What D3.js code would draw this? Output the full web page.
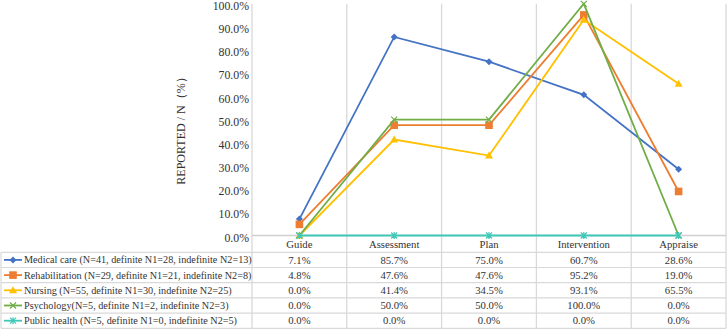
<!DOCTYPE html>
<html>
<head>
<meta charset="utf-8">
<script src="https://cdn.jsdelivr.net/npm/d3@7"></script>
<style>
  body { margin: 0; background: #fff; }
</style>
</head>
<body>
<div id="chart"></div>
<script>
const categories = ["Guide", "Assessment", "Plan", "Intervention", "Appraise"];
const seriesNames = [
  "Medical care (N=41, definite N1=28, indefinite N2=13)",
  "Rehabilitation (N=29, definite N1=21, indefinite N2=8)",
  "Nursing (N=55, definite N1=30, indefinite N2=25)",
  "Psychology(N=5, definite N1=2, indefinite N2=3)",
  "Public health (N=5, definite N1=0, indefinite N2=5)"
];
const medical = [7.1, 85.7, 75.0, 60.7, 28.6];
const rehab = [4.8, 47.6, 47.6, 95.2, 19.0];
const nursing = [0.0, 41.4, 34.5, 93.1, 65.5];
const psychology = [0.0, 50.0, 50.0, 100.0, 0.0];
const publicHealth = [0.0, 0.0, 0.0, 0.0, 0.0];
const yTicks = [0, 10, 20, 30, 40, 50, 60, 70, 80, 90, 100];

const seriesValues = [medical, rehab, nursing, psychology, publicHealth];
const colors = ["#4472C4", "#ED7D31", "#FFC000", "#70AD47", "#40C8B8"];
const markers = ["diamond", "square", "triangle", "x", "star"];

const width = 728, height = 329;
const plot = { left: 252, right: 726, top: 3.8, bottom: 235.5 };
const tableTop = 252.3, rowH = 15.2;
const tableFont = 10.7, legendFont = 10.2;
const serif = "'Liberation Serif', 'Times New Roman', Times, 'DejaVu Serif', serif";

const svg = d3.select("#chart").append("svg")
  .attr("width", width).attr("height", height)
  .style("display", "block")
  .attr("font-family", serif);

const x = d3.scaleBand().domain(categories).range([plot.left, plot.right]);
const y = d3.scaleLinear().domain([0, 100]).range([plot.bottom, plot.top]);

// vertical gridlines (category boundaries), run down through the table
const bounds = categories.map(c => x(c)).concat([plot.right]);
svg.selectAll(".vgrid").data(bounds).enter().append("line")
  .attr("x1", d => d).attr("x2", d => d)
  .attr("y1", plot.top).attr("y2", tableTop + rowH * 5)
  .attr("stroke", "#d9d9d9").attr("stroke-width", 1.3);

// y tick labels
svg.selectAll(".ytick").data(yTicks).enter().append("text")
  .attr("x", 249).attr("y", d => y(d) + 2).attr("dy", "0.35em")
  .attr("text-anchor", "end").attr("font-size", 11.8).attr("fill", "#333")
  .text(d => d.toFixed(1) + "%");

// y axis title
svg.append("text")
  .attr("transform", "translate(185,128) rotate(-90)")
  .attr("text-anchor", "middle").attr("font-size", 12).attr("fill", "#333")
  .text("REPORTED / N（%）");

// table horizontal lines
const rowLines = d3.range(6).map(i => tableTop + i * rowH);
svg.selectAll(".hrow").data(rowLines).enter().append("line")
  .attr("x1", 1).attr("x2", plot.right)
  .attr("y1", d => d).attr("y2", d => d)
  .attr("stroke", "#d9d9d9").attr("stroke-width", 1.2);
svg.append("line")
  .attr("x1", 1).attr("x2", 1).attr("y1", tableTop).attr("y2", tableTop + rowH * 5)
  .attr("stroke", "#d9d9d9").attr("stroke-width", 1.2);

// x axis line
svg.append("line")
  .attr("x1", plot.left).attr("x2", plot.right)
  .attr("y1", plot.bottom).attr("y2", plot.bottom)
  .attr("stroke", "#d0d0d0").attr("stroke-width", 1.5);

// category header
svg.selectAll(".cat").data(categories).enter().append("text")
  .attr("x", d => x(d) + x.bandwidth() / 2).attr("y", 244.5).attr("dy", "0.35em")
  .attr("text-anchor", "middle").attr("font-size", tableFont).attr("fill", "#333")
  .text(d => d);

function drawMarker(g, type, color) {
  if (type === "diamond") {
    g.append("path").attr("d", "M0,-3.5L3.5,0L0,3.5L-3.5,0Z").attr("fill", color);
  } else if (type === "square") {
    g.append("rect").attr("x", -3.8).attr("y", -3.8).attr("width", 7.6).attr("height", 7.6).attr("fill", color);
  } else if (type === "triangle") {
    g.append("path").attr("d", "M0,-4L4,3L-4,3Z").attr("fill", color);
  } else if (type === "x") {
    g.append("path").attr("d", "M-3,-3L3,3M-3,3L3,-3").attr("stroke", color).attr("stroke-width", 1.2).attr("fill", "none");
  } else {
    g.append("path").attr("d", "M-3,-3L3,3M-3,3L3,-3M0,-3.5L0,3.5").attr("stroke", color).attr("stroke-width", 1.2).attr("fill", "none");
  }
}

const line = d3.line()
  .x((d, i) => x(categories[i]) + x.bandwidth() / 2)
  .y(d => y(d));

seriesValues.forEach((vals, s) => {
  svg.append("path").datum(vals)
    .attr("d", line).attr("fill", "none")
    .attr("stroke", colors[s]).attr("stroke-width", 1.8);
  vals.forEach((v, i) => {
    const g = svg.append("g")
      .attr("transform", `translate(${x(categories[i]) + x.bandwidth() / 2},${y(v)})`);
    drawMarker(g, markers[s], colors[s]);
  });
});

// table rows
seriesNames.forEach((name, s) => {
  const cy = tableTop + rowH * s + rowH / 2;
  svg.append("line").attr("x1", 4).attr("x2", 22).attr("y1", cy).attr("y2", cy)
    .attr("stroke", colors[s]).attr("stroke-width", 1.8);
  drawMarker(svg.append("g").attr("transform", `translate(13,${cy})`), markers[s], colors[s]);
  svg.append("text").attr("x", 24).attr("y", cy).attr("dy", "0.35em")
    .attr("font-size", legendFont).attr("fill", "#333").text(name);
  seriesValues[s].forEach((v, i) => {
    svg.append("text")
      .attr("x", x(categories[i]) + x.bandwidth() / 2).attr("y", cy).attr("dy", "0.35em")
      .attr("text-anchor", "middle").attr("font-size", tableFont).attr("fill", "#333")
      .text(v.toFixed(1) + "%");
  });
});
</script>
</body>
</html>
